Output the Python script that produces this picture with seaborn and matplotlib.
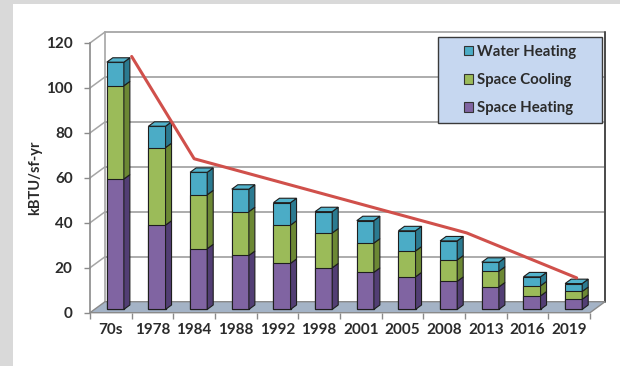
import matplotlib
matplotlib.use("Agg")
import numpy as np
import pandas as pd
import seaborn as sns
import matplotlib.pyplot as plt
from matplotlib.patches import Polygon, Rectangle, Patch
from matplotlib.transforms import offset_copy

# ---- data -------------------------------------------------------------
years = ["70s", "1978", "1984", "1988", "1992", "1998",
         "2001", "2005", "2008", "2013", "2016", "2019"]
space_heating = [58, 37.5, 27, 24, 20.5, 18.5, 16.5, 14.5, 12.5, 10, 6, 4.5]
space_cooling = [41.5, 34.5, 24, 19.5, 17, 15.5, 13, 11.5, 9.5, 7, 4.5, 3.5]
water_heating = [10.5, 9.5, 10, 10, 10, 9.5, 10, 9, 8.5, 4, 4, 3.5]

# trend line drawn over the bars (position along the category axis, value)
trend_pos = [0.5, 2.0, 8.54, 11.18]
trend_values = [114, 68.5, 35.5, 15.5]

y_ticks = [0, 20, 40, 60, 80, 100, 120]
series_labels = ["Water Heating", "Space Cooling", "Space Heating"]

# ---- style ------------------------------------------------------------
HEAT, HEAT_SIDE = "#8064a2", "#523e74"
COOL, COOL_SIDE = "#9bbb59", "#6c8834"
WATER, WATER_SIDE, WATER_TOP = "#4bacc6", "#2b7a90", "#52b3cc"
EDGE = "#1e1e1e"
GRID = "#a6a6a6"
FLOOR = "#a4b3c6"
RED = "#d0504b"
TEXT = "#2b2b2b"

sns.set_theme(style="white")
plt.rcParams["font.family"] = ["Lato", "DejaVu Sans"]
plt.rcParams["font.weight"] = "bold"

W, H = 620, 366
fig = plt.figure(figsize=(W / 100, H / 100), dpi=100, facecolor="#d9d9d9")
fig.patches.append(Rectangle((13 / W, 0), 1, (H - 4) / H, transform=fig.transFigure,
                             facecolor="white", edgecolor="none", zorder=-10))

ax = fig.add_axes([90 / W, 53.3 / H, 500 / W, 269.7 / H])
ax.patch.set_visible(False)

df = pd.DataFrame({"year": years, "heating": space_heating,
                   "cooling": space_cooling, "water": water_heating})
df["heat_cool"] = df["heating"] + df["cooling"]
df["total"] = df["heat_cool"] + df["water"]

# depth of the 3-D box in data units, and bar placement inside it
px_per_cat = 500 / 12
px_per_val = 269.7 / 120
DX, DY = 15 / px_per_cat, 11 / px_per_val
BDX, BDY = 0.4 * DX, 0.4 * DY
bar_tr = offset_copy(ax.transData, fig=fig, x=0.3 * 15, y=0.3 * 11, units="dots")

# front faces of the stacked bars (overlaid cumulative totals)
for col, color in [("total", WATER), ("heat_cool", COOL), ("heating", HEAT)]:
    sns.barplot(data=df, x="year", y=col, order=years, color=color, width=0.41,
                saturation=1, edgecolor=EDGE, linewidth=0.8, ax=ax, zorder=3)
for cont in ax.containers:
    for p in cont:
        p.set_transform(bar_tr)
        p.set_clip_on(False)

# side and top faces
for i, p in enumerate(ax.containers[0]):
    x0 = p.get_x()
    x1 = x0 + p.get_width()
    h, c, t = df.loc[i, "heating"], df.loc[i, "heat_cool"], df.loc[i, "total"]
    for lo, hi, side in [(0, h, HEAT_SIDE), (h, c, COOL_SIDE), (c, t, WATER_SIDE)]:
        ax.add_patch(Polygon([(x1, lo), (x1 + BDX, lo + BDY), (x1 + BDX, hi + BDY), (x1, hi)],
                             closed=True, facecolor=side, edgecolor=EDGE, linewidth=0.8,
                             transform=bar_tr, zorder=3, clip_on=False))
    ax.add_patch(Polygon([(x0, t), (x1, t), (x1 + BDX, t + BDY), (x0 + BDX, t + BDY)],
                         closed=True, facecolor=WATER_TOP, edgecolor=EDGE, linewidth=0.8,
                         transform=bar_tr, zorder=3, clip_on=False))

xl, xr = -0.5, 11.5

# floor
ax.add_patch(Polygon([(xl, 0), (xr, 0), (xr + DX, DY), (xl + DX, DY)], closed=True,
                     facecolor=FLOOR, edgecolor="#8a8a8a", linewidth=1.0, zorder=1,
                     clip_on=False))

# back wall and side wall lines
for v in y_ticks[1:]:
    ax.plot([xl + DX, xr + DX], [v + DY, v + DY], color=GRID, lw=1.3, zorder=0.5,
            clip_on=False)
    ax.plot([xl, xl + DX], [v, v + DY], color=GRID, lw=1.1, zorder=0.5, clip_on=False)
ax.plot([xl + DX, xl + DX], [DY, 120 + DY], color=GRID, lw=1.2, zorder=0.5, clip_on=False)
ax.plot([xr + DX, xr + DX], [DY, 120 + DY], color="#4a4a4a", lw=1.4, zorder=0.6,
        clip_on=False)

# trend line
sns.lineplot(x=trend_pos, y=trend_values, ax=ax, color=RED, linewidth=2.2,
             sort=False, zorder=4)
for ln in ax.lines[-1:]:
    ln.set_clip_on(False)

ax.set_xlim(xl, xr)
ax.set_ylim(0, 120)
ax.set_xticks(range(len(years)))
ax.set_xticklabels(years)
ax.set_xticks(np.arange(xl, xr + 0.01, 1.0), minor=True)
ax.set_yticks(y_ticks)
ax.set_xlabel("")
ax.set_ylabel("")

for s in ["top", "right", "bottom"]:
    ax.spines[s].set_visible(False)
ax.spines["left"].set_color("#8a8a8a")
ax.spines["left"].set_linewidth(1.2)

ax.tick_params(axis="x", which="major", length=0, pad=7.5, labelsize=11, labelcolor=TEXT)
ax.tick_params(axis="x", which="minor", bottom=True, length=4, width=1, color="#8a8a8a",
               direction="out")
ax.tick_params(axis="y", which="major", left=True, length=4, width=1, color="#8a8a8a",
               direction="out", pad=8.5, labelsize=11, labelcolor=TEXT)
for lab in ax.get_xticklabels() + ax.get_yticklabels():
    lab.set_fontweight("bold")

fig.text(35.5 / W, 1 - 178 / H, "kBTU/sf-yr", rotation=90, ha="center", va="center",
         fontsize=10.5, fontweight="bold", color=TEXT)

# legend box
lx0, ly0, lx1, ly1 = 438, 37, 602, 123
fig.patches.append(Rectangle((lx0 / W, 1 - ly1 / H), (lx1 - lx0) / W, (ly1 - ly0) / H,
                             transform=fig.transFigure, facecolor="#c6d7f0",
                             edgecolor="#3a3a3a", linewidth=1.0, zorder=5))
handles = [Patch(facecolor=c, edgecolor="#333333", linewidth=0.8)
           for c in (WATER, COOL, HEAT)]
leg = fig.legend(handles, series_labels, loc="center",
                 bbox_to_anchor=((lx0 + lx1) / 2 / W, 1 - (ly0 + ly1) / 2 / H),
                 frameon=False, fontsize=10.8, labelspacing=0.95, handlelength=0.62,
                 handleheight=0.62, handletextpad=0.3, labelcolor=TEXT)
leg.set_zorder(6)
for t in leg.get_texts():
    t.set_fontweight("bold")

fig.savefig("out.png", dpi=100, facecolor=fig.get_facecolor())
